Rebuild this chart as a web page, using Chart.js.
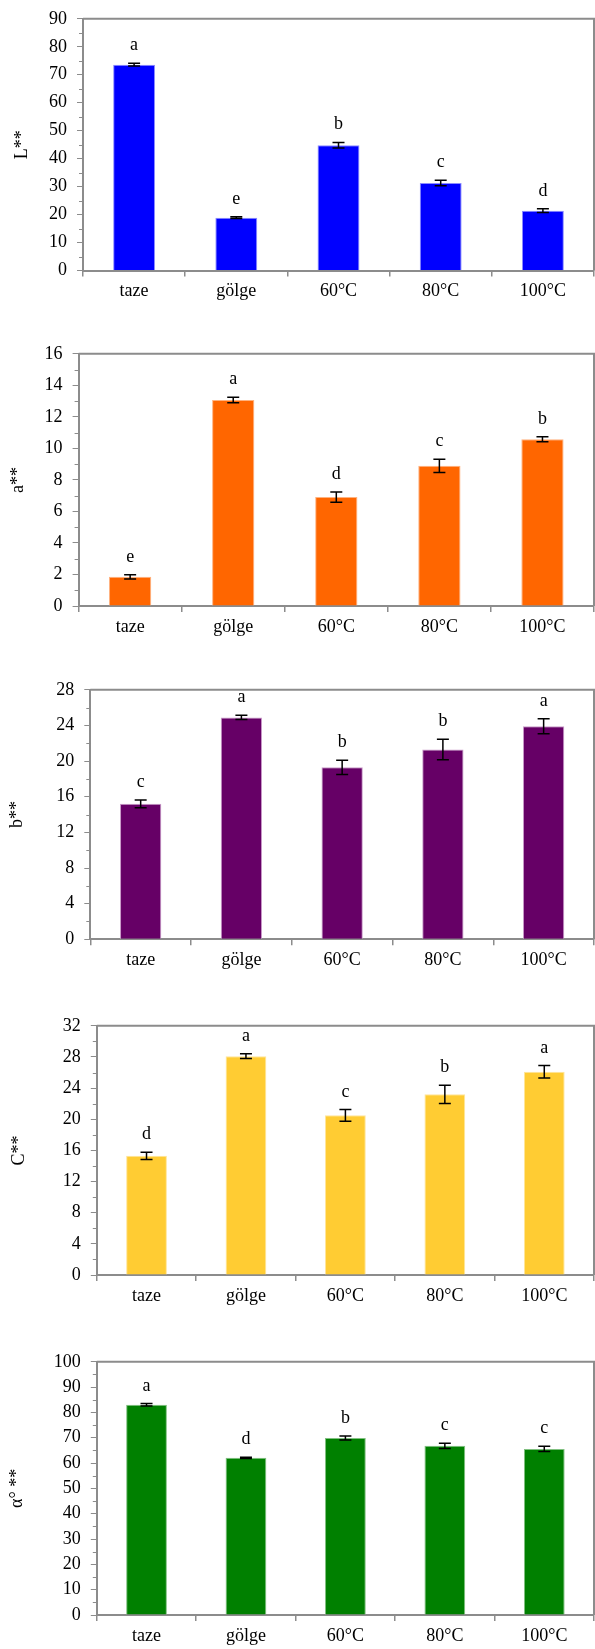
<!DOCTYPE html>
<html lang="tr">
<head>
<meta charset="utf-8"/>
<title>Renk değerleri</title>
<script src="https://cdn.jsdelivr.net/npm/chart.js@4.4.1/dist/chart.umd.min.js"></script>
<style>
  body { margin: 0; background: #fff; width: 595px; height: 1649px; position: relative; overflow: hidden; }
  canvas { position: absolute; left: 0; }
</style>
</head>
<body>
<canvas id="c1"></canvas>
<canvas id="c2"></canvas>
<canvas id="c3"></canvas>
<canvas id="c4"></canvas>
<canvas id="c5"></canvas>
<script>
  // kategoriler
  const categories = ['taze', 'gölge', '60°C', '80°C', '100°C'];

  // L*
  const lValues  = [73.6, 18.9, 44.8, 31.3, 21.4];
  const lErrors  = [0.5, 0.3, 1.0, 1.0, 0.7];
  const lLetters = ['a', 'e', 'b', 'c', 'd'];

  // a*
  const aValues  = [1.85, 13.07, 6.91, 8.89, 10.58];
  const aErrors  = [0.13, 0.17, 0.32, 0.42, 0.16];
  const aLetters = ['e', 'a', 'd', 'c', 'b'];

  // b*
  const bValues  = [15.2, 24.9, 19.3, 21.3, 23.9];
  const bErrors  = [0.44, 0.24, 0.8, 1.15, 0.84];
  const bLetters = ['c', 'a', 'b', 'b', 'a'];

  // C*
  const cValues  = [15.3, 28.1, 20.5, 23.2, 26.1];
  const cErrors  = [0.46, 0.3, 0.75, 1.17, 0.8];
  const cLetters = ['d', 'a', 'c', 'b', 'a'];

  // hue angle
  const hValues  = [83.0, 62.1, 69.9, 66.8, 65.6];
  const hErrors  = [0.5, 0.25, 0.8, 1.0, 1.0];
  const hLetters = ['a', 'd', 'b', 'c', 'c'];

  const FONT = '"Liberation Serif", "Times New Roman", serif';
  const AXIS = '#8c8c8c';

  const panels = [
    { id: 'c1', title: 'L**',   values: lValues, errors: lErrors, letters: lLetters, max: 90,  step: 10, fill: '#0000ff', edge: '#8c8cff', left: 83,  top: 12,   bottom: 270.5, titleX: 22 },
    { id: 'c2', title: 'a**',   values: aValues, errors: aErrors, letters: aLetters, max: 16,  step: 2,  fill: '#ff6600', edge: '#ffb27f', left: 78.6, top: 346.7, bottom: 605.7, titleX: 18 },
    { id: 'c3', title: 'b**',   values: bValues, errors: bErrors, letters: bLetters, max: 28,  step: 4,  fill: '#660066', edge: '#c99ac9', left: 90.3, top: 682.7, bottom: 939,   titleX: 17 },
    { id: 'c4', title: 'C**',   values: cValues, errors: cErrors, letters: cLetters, max: 32,  step: 4,  fill: '#ffcc33', edge: '#ffe59a', left: 96.8, top: 1019,  bottom: 1275,  titleX: 19 },
    { id: 'c5', title: 'α° **', values: hValues, errors: hErrors, letters: hLetters, max: 100, step: 10, fill: '#008000', edge: '#80c080', left: 96.8, top: 1355,  bottom: 1615,  titleX: 17 }
  ];

  const PAD_TOP = 14, X_AXIS_H = 44;

  // frame, minor ticks, error bars and letters
  const extras = {
    id: 'extras',
    afterDatasetsDraw(chart, args, opts) {
      const ctx = chart.ctx;
      const area = chart.chartArea;
      const x = chart.scales.x, y = chart.scales.y;
      ctx.save();
      // top + right border
      ctx.strokeStyle = AXIS;
      ctx.lineWidth = 2;
      ctx.beginPath();
      ctx.moveTo(area.left, area.top);
      ctx.lineTo(area.right, area.top);
      ctx.lineTo(area.right, area.bottom);
      ctx.stroke();
      // minor ticks
      ctx.lineWidth = 1;
      y.ticks.forEach(t => {
        if (Math.round(t.value / opts.step * 1000) % 1000 !== 0) {
          const py = Math.round(y.getPixelForValue(t.value)) + 0.5;
          ctx.beginPath();
          ctx.moveTo(area.left - 4, py);
          ctx.lineTo(area.left, py);
          ctx.stroke();
        }
      });
      // error bars
      ctx.strokeStyle = '#000';
      ctx.lineWidth = 1.5;
      ctx.fillStyle = '#000';
      ctx.font = '18px ' + FONT;
      ctx.textAlign = 'center';
      ctx.textBaseline = 'alphabetic';
      opts.values.forEach((v, i) => {
        const px = x.getPixelForValue(i);
        const hi = y.getPixelForValue(v + opts.errors[i]);
        const lo = y.getPixelForValue(v - opts.errors[i]);
        ctx.beginPath();
        ctx.moveTo(px, hi); ctx.lineTo(px, lo);
        ctx.moveTo(px - 6, hi); ctx.lineTo(px + 6, hi);
        ctx.moveTo(px - 6, lo); ctx.lineTo(px + 6, lo);
        ctx.stroke();
        ctx.fillText(opts.letters[i], px, hi - 13);
      });
      ctx.restore();
    }
  };

  panels.forEach(p => {
    const canvas = document.getElementById(p.id);
    const h = Math.round(p.bottom - p.top + PAD_TOP + X_AXIS_H);
    canvas.width = 595;
    canvas.height = h;
    canvas.style.width = '595px';
    canvas.style.height = h + 'px';
    canvas.style.top = (p.top - PAD_TOP) + 'px';
    const xAxisH = h - PAD_TOP - (p.bottom - p.top);

    new Chart(canvas, {
      type: 'bar',
      data: {
        labels: categories,
        datasets: [{
          data: p.values,
          backgroundColor: p.fill,
          borderColor: p.edge,
          borderWidth: 1,
          barPercentage: 0.41,
          categoryPercentage: 1.0
        }]
      },
      options: {
        responsive: false,
        animation: false,
        devicePixelRatio: 1,
        layout: { padding: { top: PAD_TOP, right: 1, left: 0, bottom: 0 } },
        plugins: {
          legend: { display: false },
          tooltip: { enabled: false },
          extras: { values: p.values, errors: p.errors, letters: p.letters, step: p.step }
        },
        scales: {
          x: {
            grid: { display: true, drawOnChartArea: false, offset: true, tickLength: 6, color: AXIS, lineWidth: 1.5 },
            border: { display: true, color: AXIS, width: 2 },
            ticks: { color: '#000', font: { family: FONT, size: 18 }, padding: 4, maxRotation: 0 },
            afterFit(scale) { scale.height = xAxisH; }
          },
          y: {
            min: 0,
            max: p.max,
            grid: {
              display: true, drawOnChartArea: false, tickLength: 6, lineWidth: 1,
              tickColor: ctx => (Math.round(ctx.tick.value / p.step * 1000) % 1000 === 0 ? AXIS : 'rgba(0,0,0,0)')
            },
            border: { display: true, color: AXIS, width: 2 },
            ticks: {
              stepSize: p.step / 2,
              autoSkip: false,
              color: '#000',
              font: { family: FONT, size: 18 },
              padding: 10,
              callback: v => (Math.round(v / p.step * 1000) % 1000 === 0 ? String(v) : '')
            },
            title: {
              display: true,
              text: p.title,
              color: '#000',
              font: { family: FONT, size: 18 },
              padding: { top: p.titleX - 10.8, bottom: 0 }
            },
            afterFit(scale) { scale.width = p.left; }
          }
        }
      },
      plugins: [extras]
    });
  });
</script>
</body>
</html>
